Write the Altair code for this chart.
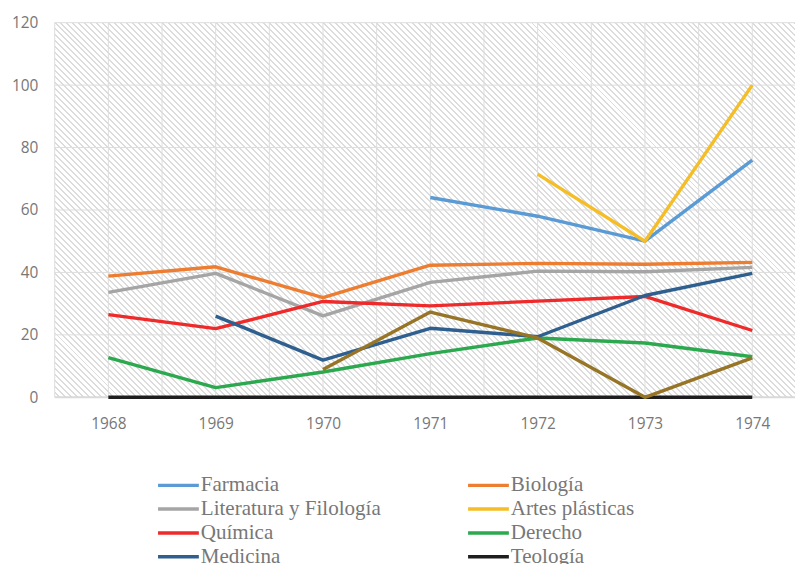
import math
import altair as alt
import pandas as pd

# ---------------- data ----------------
years = [1968, 1969, 1970, 1971, 1972, 1973, 1974]
series_names = ["Farmacia", "Biología", "Literatura y Filología", "Artes plásticas",
                "Química", "Derecho", "Medicina", "Teología"]
farmacia = [None, None, None, 64, 58, 50, 76]
biologia = [38.8, 41.8, 31.9, 42.3, 42.9, 42.6, 43.2]
literatura = [33.6, 39.7, 26.1, 36.8, 40.4, 40.2, 41.6]
artes = [None, None, None, None, 71.5, 50, 100]
quimica = [26.5, 22.0, 30.7, 29.3, 30.8, 32.3, 21.4]
derecho = [12.7, 3.1, 8.1, 14.0, 19.0, 17.4, 13.0]
medicina = [None, 26.0, 11.9, 22.1, 19.4, 32.6, 39.7]
teologia = [0, 0, 0, 0, 0, 0, 0]
# ninth series, its legend entry is cut off in the original
extra_name = "Otros"
extra = [None, None, 8.9, 27.3, 19.0, 0, 12.6]

series_values = [farmacia, biologia, literatura, artes, quimica, derecho, medicina, teologia]
colors = ["#5B9BD5", "#ED7D31", "#A5A5A5", "#F5BD26", "#EE2A2A", "#2CA94F", "#2F5F8F", "#1E1E1E"]
extra_color = "#977426"

y_ticks = [0, 20, 40, 60, 80, 100, 120]
x_grid = [1967.5, 1968, 1968.5, 1969, 1969.5, 1970, 1970.5, 1971, 1971.5,
          1972, 1972.5, 1973, 1973.5, 1974]

# ---------------- layout ----------------
W, H = 745, 377
X_MIN = 1967.5
X_MAX = X_MIN + W / 108.0
TEXT = "#777777"

rows = []
for name, vals in zip(series_names, series_values):
    for yr, v in zip(years, vals):
        if v is not None:
            rows.append({"year": yr, "value": v, "serie": name})
df = pd.DataFrame(rows)
df_extra = pd.DataFrame([{"year": yr, "value": v, "serie": extra_name}
                         for yr, v in zip(years, extra) if v is not None])

xscale = alt.Scale(domain=[X_MIN, X_MAX], nice=False, zero=False)
yscale = alt.Scale(domain=[0, 120], nice=False)

# hatch gradient (diagonal stripes, 45 deg, 6px horizontal period)
r = H / W
s = (1 + r) / (1 + r * r)
span = (W + H) / math.sqrt(2)
period = 6 / math.sqrt(2)
dark = 2 / math.sqrt(2)
stops = []
k = 0
while True:
    base = k * period / span
    if base >= 1:
        break
    a = min(1.0, base + (period - dark) / span)
    b = min(1.0, base + period / span)
    stops.append(alt.GradientStop(color="#ffffff", offset=base))
    stops.append(alt.GradientStop(color="#ffffff", offset=a))
    stops.append(alt.GradientStop(color="#dcdcdc", offset=a))
    stops.append(alt.GradientStop(color="#dcdcdc", offset=b))
    k += 1
grad = alt.LinearGradient(gradient="linear", stops=stops, x1=0, y1=1, x2=s, y2=1 - s * r)

hatch = alt.Chart(pd.DataFrame({"a": [0]})).mark_rect(fill=grad).encode(
    x=alt.datum(X_MIN, scale=xscale), x2=alt.datum(X_MAX),
    y=alt.datum(0, scale=yscale), y2=alt.datum(120),
)

vgrid = alt.Chart(pd.DataFrame({"g": x_grid})).mark_rule(color="#dddddd", strokeWidth=1).encode(
    x=alt.X("g:Q", scale=xscale)
)
hgrid = alt.Chart(pd.DataFrame({"g": y_ticks[1:]})).mark_rule(color="#dddddd", strokeWidth=1).encode(
    y=alt.Y("g:Q", scale=yscale)
)
baseline = alt.Chart(pd.DataFrame({"g": [0]})).mark_rule(color="#d9d9d9", strokeWidth=2).encode(
    y=alt.Y("g:Q", scale=yscale)
)

lines = alt.Chart(df).mark_line(strokeWidth=3.4, strokeJoin="round").encode(
    x=alt.X("year:Q", scale=xscale,
            axis=alt.Axis(values=years, format="d", grid=False, domain=False, ticks=False,
                          tickSize=0, labelPadding=26, labelBaseline="middle",
                          labelFont="Open Sans", labelFontSize=15.5, labelColor=TEXT, title=None)),
    y=alt.Y("value:Q", scale=yscale,
            axis=alt.Axis(values=y_ticks, grid=False, domain=False, ticks=False, tickSize=0,
                          labelPadding=17, labelFont="Open Sans", labelFontSize=15.5,
                          labelColor=TEXT, title=None)),
    color=alt.Color("serie:N", scale=alt.Scale(domain=series_names, range=colors),
                    legend=alt.Legend(orient="none", legendX=102, legendY=452, columns=2,
                                      direction="horizontal",
                                      columnPadding=80, rowPadding=0,
                                      symbolType="M-1,0H2.57", symbolSize=529,
                                      symbolStrokeWidth=3.5, labelOffset=18,
                                      labelFont="Liberation Serif", labelFontSize=21.2,
                                      labelColor=TEXT, labelLimit=400, title=None)),
    detail="serie:N",
)

extra_line = alt.Chart(df_extra).mark_line(strokeWidth=3.4, strokeJoin="round", color=extra_color).encode(
    x=alt.X("year:Q", scale=xscale),
    y=alt.Y("value:Q", scale=yscale),
)

chart = alt.layer(hatch, vgrid, hgrid, baseline, lines, extra_line).properties(
    width=W, height=H,
    autosize=alt.AutoSizeParams(type="none"),
    padding={"left": 47, "top": 13, "right": 0, "bottom": 166},
).configure_view(stroke=None)

chart.save("out.html", embed_options={"renderer": "svg", "actions": False})
